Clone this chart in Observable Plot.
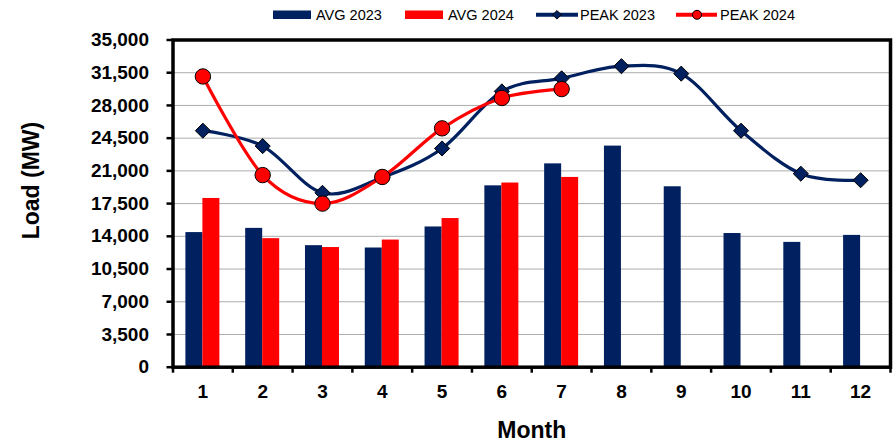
<!DOCTYPE html>
<html><head><meta charset="utf-8">
<script src="https://cdn.jsdelivr.net/npm/d3@7"></script>
<script src="https://cdn.jsdelivr.net/npm/@observablehq/plot@0.6"></script>
<style>
body{margin:0;background:#fff;font-family:"Liberation Sans",Arial,sans-serif}
#wrap{position:relative;width:896px;height:444px}
#legend{position:absolute;left:0;top:0}
</style></head><body><div id="wrap"></div>
<script>
const months = [1,2,3,4,5,6,7,8,9,10,11,12];
const avg2023 = [14400,14850,13000,12750,15000,19400,21750,23650,19300,14300,13350,14100];
const avg2024 = [18050,13750,12800,13600,15900,19700,20300];
const peak2023 = [25300,23650,18650,20300,23400,29500,30900,32200,31400,25300,20700,20000];
const peak2024 = [31100,20550,17500,20350,25550,28800,29750];
const yTicks = [0,3500,7000,10500,14000,17500,21000,24500,28000,31500,35000];
const seriesNames = ["AVG 2023","AVG 2024","PEAK 2023","PEAK 2024"];
const navy = "#002060", red = "#FF0000";

const rows = (vals) => vals.map((v,i)=>({month: months[i], value: v}));
const a23 = rows(avg2023), a24 = rows(avg2024), p23 = rows(peak2023), p24 = rows(peak2024);

const W = 896, H = 444, ML = 172.5, MR = 6, MT = 39.5, MB = 77.3;
const bw = (W - ML - MR) / months.length;
const barW = 17;
const font = {fontFamily: "Liberation Sans, Arial, sans-serif", fontWeight: "bold"};

const chart = Plot.plot({
  width: W, height: H,
  marginLeft: ML, marginRight: MR, marginTop: MT, marginBottom: MB,
  style: {fontFamily: "Liberation Sans, Arial, sans-serif", background: "white", color: "black"},
  x: {type: "band", domain: months, padding: 0, round: false},
  y: {domain: [0, 35000]},
  marks: [
    Plot.ruleY(yTicks.filter(t => t > 0 && t < 35000), {stroke: "#000", strokeOpacity: 0.65, strokeDasharray: "1,1"}),
    Plot.barY(a23, {x: "month", y: "value", fill: navy, insetLeft: bw/2 - barW, insetRight: bw/2}),
    Plot.barY(a24, {x: "month", y: "value", fill: red, insetLeft: bw/2, insetRight: bw/2 - barW}),
    Plot.line(p23, {x: "month", y: "value", stroke: navy, strokeWidth: 3.2, curve: "cardinal"}),
    Plot.dot(p23, {x: "month", y: "value", symbol: "diamond2", r: 6.8, fill: navy, stroke: "#000", strokeWidth: 1}),
    Plot.line(p24, {x: "month", y: "value", stroke: red, strokeWidth: 3.2, curve: "cardinal"}),
    Plot.dot(p24, {x: "month", y: "value", symbol: "circle", r: 7.7, fill: red, stroke: "#000", strokeWidth: 1}),
    Plot.frame({stroke: "#000", strokeWidth: 3.5}),
    Plot.axisY(yTicks, {tickFormat: d3.format(","), tickSize: 6, tickPadding: 18, fontSize: 19, strokeWidth: 2.5, label: null, ...font}),
    Plot.axisX({tickSize: 0, tickPadding: 17, fontSize: 19, label: null, ...font}),
    Plot.axisX({tickSize: 6, tickFormat: () => "", dx: -bw/2, strokeWidth: 2.5, label: null}),
    Plot.axisX([12], {tickSize: 6, tickFormat: () => "", dx: bw/2, strokeWidth: 2.5, label: null}),
    Plot.text(["Load (MW)"], {frameAnchor: "left", textAnchor: "middle", lineAnchor: "middle", dx: 31 - ML, dy: -23, rotate: -90, fontSize: 23, ...font}),
    Plot.text(["Month"], {frameAnchor: "bottom", textAnchor: "middle", lineAnchor: "middle", dy: 63.5, fontSize: 23, ...font})
  ]
});
const wrap = document.getElementById("wrap");
wrap.appendChild(chart);

// legend
const ns = "http://www.w3.org/2000/svg";
const lg = document.createElementNS(ns, "svg");
lg.setAttribute("id", "legend"); lg.setAttribute("width", W); lg.setAttribute("height", 30);
const el = (tag, attrs, txt) => { const e = document.createElementNS(ns, tag); for (const k in attrs) e.setAttribute(k, attrs[k]); if (txt) e.textContent = txt; lg.appendChild(e); return e; };
const ty = 20, fs = 14.5;
const ff = "Liberation Sans, Arial, sans-serif";
el("rect", {x: 273, y: 10.5, width: 38, height: 8.5, fill: navy});
el("text", {x: 316, y: ty, "font-size": fs, "font-family": ff}, seriesNames[0]);
el("rect", {x: 405, y: 10.5, width: 38, height: 8.5, fill: red});
el("text", {x: 448, y: ty, "font-size": fs, "font-family": ff}, seriesNames[1]);
el("line", {x1: 536, x2: 578, y1: 14.8, y2: 14.8, stroke: navy, "stroke-width": 4});
el("path", {d: "M557,10.5 L561.3,14.8 L557,19.1 L552.7,14.8 Z", fill: navy, stroke: "#000", "stroke-width": 1});
el("text", {x: 580, y: ty, "font-size": fs, "font-family": ff}, seriesNames[2]);
el("line", {x1: 676, x2: 717, y1: 14.8, y2: 14.8, stroke: red, "stroke-width": 4});
el("circle", {cx: 697, cy: 14.8, r: 4.5, fill: red, stroke: "#000", "stroke-width": 1});
el("text", {x: 720, y: ty, "font-size": fs, "font-family": ff}, seriesNames[3]);
wrap.appendChild(lg);
</script></body></html>
